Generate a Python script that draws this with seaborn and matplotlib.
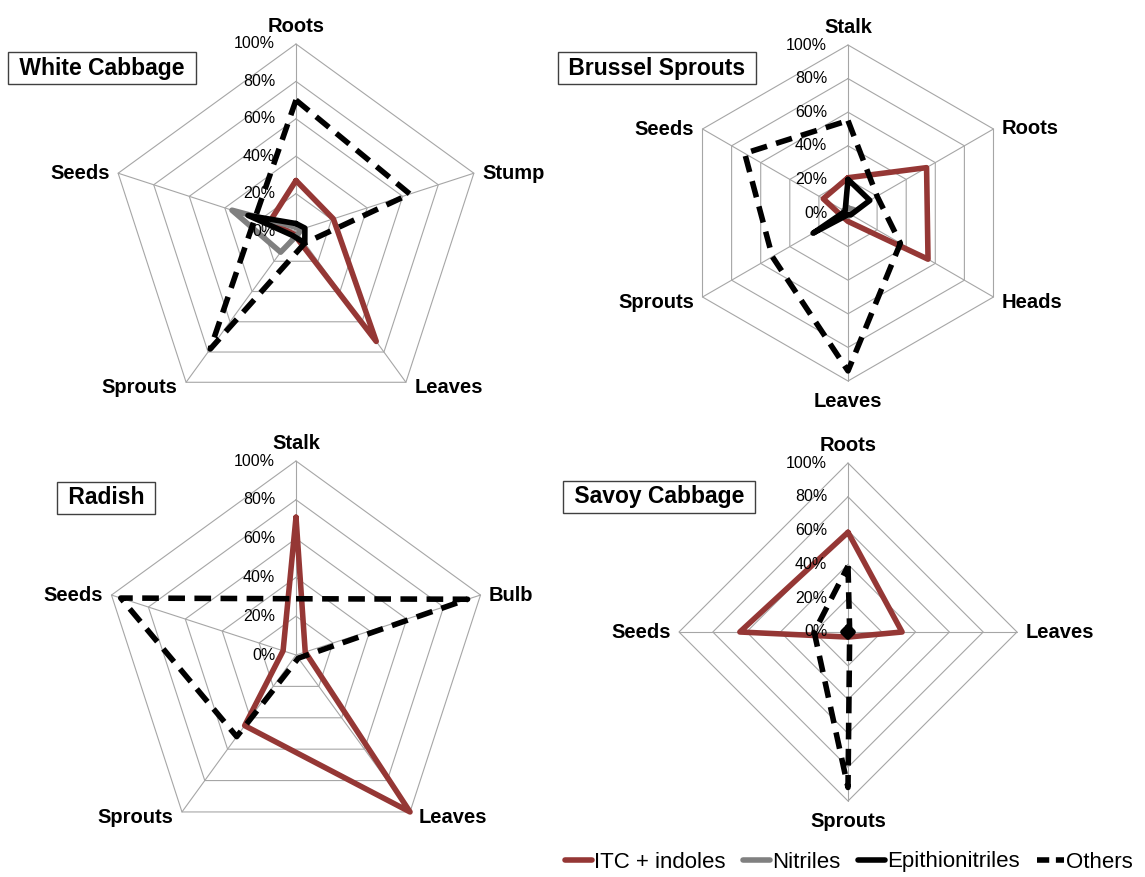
import numpy as np
import pandas as pd
import seaborn as sns
import matplotlib.pyplot as plt
from matplotlib.lines import Line2D

# series of every chart (share of each compound class, %)
series_names = ['ITC + indoles', 'Nitriles', 'Epithionitriles', 'Others']
series_colors = {'ITC + indoles': '#953735', 'Nitriles': '#808080',
                 'Epithionitriles': '#000000', 'Others': '#000000'}
series_dashes = {'ITC + indoles': '', 'Nitriles': '', 'Epithionitriles': '', 'Others': (3, 1.7)}

# White Cabbage
wc_parts = ['Roots', 'Stump', 'Leaves', 'Sprouts', 'Seeds']
wc_itc = [27, 21, 73, 2, 15]
wc_nitriles = [2, 3, 2, 14, 36]
wc_epi = [4, 5, 8, 3, 27]
wc_others = [70, 64, 8, 78, 23]

# Brussel Sprouts
bs_parts = ['Stalk', 'Roots', 'Heads', 'Leaves', 'Sprouts', 'Seeds']
bs_itc = [21, 54, 55, 5, 4, 17]
bs_nitriles = [3, 4, 2, 2, 2, 3]
bs_epi = [20, 15, 2, 1, 24, 2]
bs_others = [55, 20, 36, 94, 52, 71]

# Radish
ra_parts = ['Stalk', 'Bulb', 'Leaves', 'Sprouts', 'Seeds']
ra_itc = [71, 5, 100, 45, 7]
ra_others = [29, 93, 2, 52, 95]

# Savoy Cabbage
sc_parts = ['Roots', 'Leaves', 'Sprouts', 'Seeds']
sc_itc = [59, 32, 3, 64]
sc_epi = [3, 3, 3, 3]
sc_others = [39, 1, 92, 20]

levels = [0, 0.2, 0.4, 0.6, 0.8, 1.0]

sns.set_style('white')
plt.rcParams['font.family'] = ['Liberation Sans', 'DejaVu Sans']
plt.rcParams['text.color'] = 'black'

W, H = 1145, 877
LW = 4.0
fig = plt.figure(figsize=(W / 100, H / 100), dpi=100)


def radar_frame(parts, data):
    n = len(parts)
    rows = []
    for name in series_names:
        if name not in data:
            continue
        vals = data[name]
        for i in range(n + 1):
            rows.append({'series': name,
                         'theta': 2 * np.pi * i / n,
                         'r': vals[i % n] / 100})
    return pd.DataFrame(rows)


def radar(cx, cy, R, title, title_xy, parts, data):
    ax = fig.add_axes([(cx - R) / W, 1 - (cy + R) / H, 2 * R / W, 2 * R / H],
                      projection='polar')
    ax.set_theta_zero_location('N')
    ax.set_theta_direction(-1)
    ax.set_ylim(0, 1)
    ax.axis('off')

    n = len(parts)
    theta = np.linspace(0, 2 * np.pi, n + 1)
    # polygon grid and spokes
    for lev in levels[1:]:
        ax.plot(theta, [lev] * (n + 1), color='#a6a6a6', lw=0.8, zorder=1, clip_on=False)
    for t in theta[:-1]:
        ax.plot([t, t], [0, 1], color='#a6a6a6', lw=0.8, zorder=1, clip_on=False)

    df = radar_frame(parts, data)
    present = [s for s in series_names if s in data]
    sns.lineplot(data=df, x='theta', y='r', hue='series', style='series',
                 hue_order=present, style_order=present,
                 palette={k: series_colors[k] for k in present},
                 dashes={k: series_dashes[k] for k in present},
                 sort=False, estimator=None, lw=LW, legend=False,
                 ax=ax, clip_on=False, zorder=3)

    # percent labels on the top spoke
    for lev in levels:
        ax.annotate(f'{int(round(lev * 100))}%', xy=(0, lev), xytext=(-15, 0),
                    textcoords='offset points', ha='right', va='center',
                    fontsize=11.5, zorder=4)

    # category labels
    for t, name in zip(theta[:-1], parts):
        deg = np.degrees(t)
        if np.isclose(deg, 0):
            off, ha, va = (0, 6), 'center', 'bottom'
        elif np.isclose(deg, 180):
            off, ha, va = (0, -8), 'center', 'top'
        elif deg < 180:
            off, ha, va = ((6, -4) if deg > 90 else (6, 0)), 'left', 'center'
        else:
            off, ha, va = ((-6, -4) if deg < 270 else (-6, 0)), 'right', 'center'
        ax.annotate(name, xy=(t, 1), xytext=off, textcoords='offset points',
                    ha=ha, va=va, fontsize=14.5, fontweight='bold')

    fig.text(title_xy[0] / W, 1 - title_xy[1] / H, ' ' + title + ' ',
             ha='center', va='center', fontsize=16.5, fontweight='bold',
             bbox=dict(boxstyle='square,pad=0.2', fc='white', ec='#404040', lw=1))
    return ax


radar(296, 231, 187, 'White Cabbage', (102, 68), wc_parts,
      {'ITC + indoles': wc_itc, 'Nitriles': wc_nitriles,
       'Epithionitriles': wc_epi, 'Others': wc_others})
radar(848, 213, 168, 'Brussel Sprouts', (657, 68), bs_parts,
      {'ITC + indoles': bs_itc, 'Nitriles': bs_nitriles,
       'Epithionitriles': bs_epi, 'Others': bs_others})
radar(296, 655, 194, 'Radish', (106, 498), ra_parts,
      {'ITC + indoles': ra_itc, 'Others': ra_others})
radar(848, 632, 169, 'Savoy Cabbage', (659, 497), sc_parts,
      {'ITC + indoles': sc_itc, 'Epithionitriles': sc_epi, 'Others': sc_others})

handles = [Line2D([], [], color=series_colors[s], lw=LW) for s in series_names[:3]]
handles.append(Line2D([], [], color='black', lw=LW, dashes=(2.2, 1.2)))
fig.legend(handles, series_names, loc='center right',
           bbox_to_anchor=(1142 / W, 1 - 862 / H), ncol=4, frameon=False,
           fontsize=16, handlelength=1.2, handletextpad=0.1, columnspacing=0.8,
           borderaxespad=0)

fig.savefig('out.png', dpi=100)
